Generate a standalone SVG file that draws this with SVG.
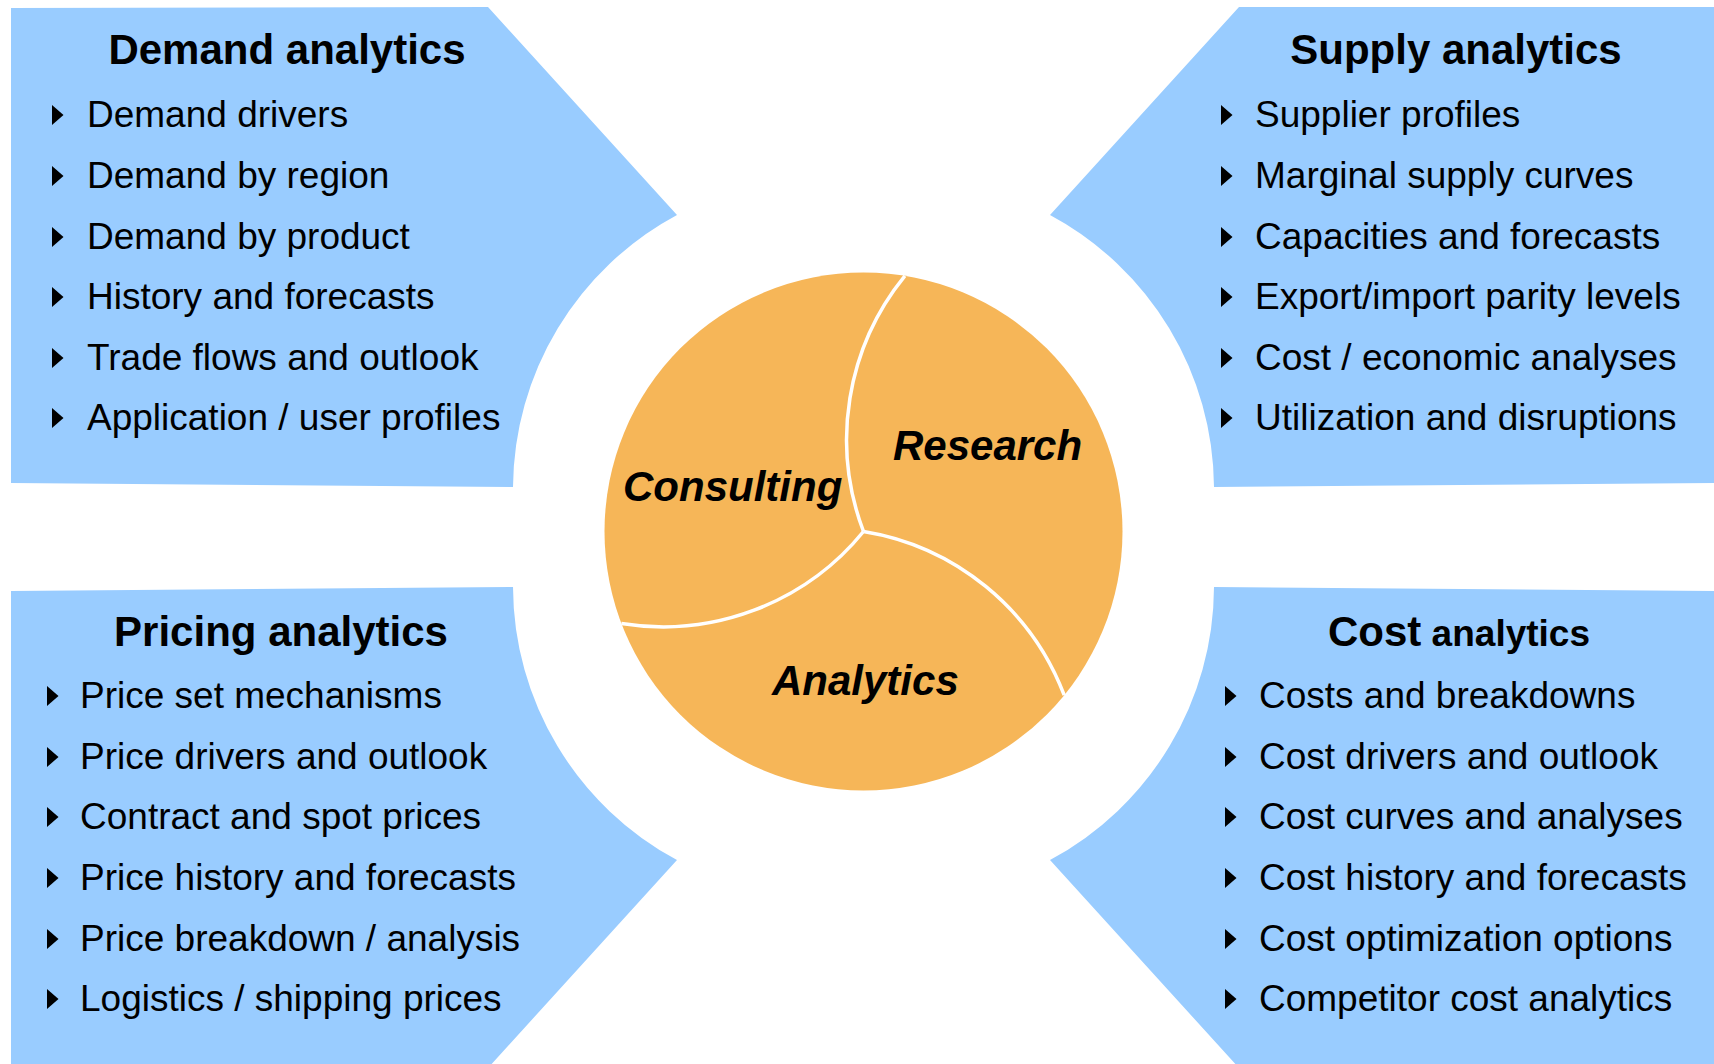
<svg xmlns="http://www.w3.org/2000/svg" xmlns:xlink="http://www.w3.org/1999/xlink" width="1714" height="1064" viewBox="0 0 1714 1064">
<style>
.panel{fill:#99CCFF;stroke:none}
.title{font-family:"Liberation Sans",Arial,sans-serif;font-weight:bold;font-size:42px;fill:#000}
.item{font-family:"Liberation Sans",Arial,sans-serif;font-size:37px;fill:#000}
.seg{font-family:"Liberation Sans",Arial,sans-serif;font-weight:bold;font-style:italic;font-size:42px;fill:#000}
.div{fill:none;stroke:#FFFFFF;stroke-width:3.5}
</style>
<defs>
<path id="bul" d="M0 0 L11.5 10 L0 20 Z" fill="#000"/>
</defs>
<rect width="1714" height="1064" fill="#FFFFFF"/>

<g id="demand">
<path class="panel" d="M11 8 L488 7 L677 215 A311 311 0 0 0 513 487 L11 483 Z"/>
<text class="title" x="287" y="64" text-anchor="middle">Demand analytics</text>
<use xlink:href="#bul" x="52" y="105"/><text class="item" x="87" y="127">Demand drivers</text>
<use xlink:href="#bul" x="52" y="166"/><text class="item" x="87" y="188">Demand by region</text>
<use xlink:href="#bul" x="52" y="227"/><text class="item" x="87" y="249">Demand by product</text>
<use xlink:href="#bul" x="52" y="287"/><text class="item" x="87" y="309">History and forecasts</text>
<use xlink:href="#bul" x="52" y="348"/><text class="item" x="87" y="370">Trade flows and outlook</text>
<use xlink:href="#bul" x="52" y="408"/><text class="item" x="87" y="430">Application / user profiles</text>
</g>

<g id="supply">
<path class="panel" d="M1239 7 L1714 7 L1714 483 L1214 487 A311 311 0 0 0 1050 215 Z"/>
<text class="title" x="1456" y="64" text-anchor="middle">Supply analytics</text>
<use xlink:href="#bul" x="1221" y="105"/><text class="item" x="1255" y="127">Supplier profiles</text>
<use xlink:href="#bul" x="1221" y="166"/><text class="item" x="1255" y="188">Marginal supply curves</text>
<use xlink:href="#bul" x="1221" y="227"/><text class="item" x="1255" y="249">Capacities and forecasts</text>
<use xlink:href="#bul" x="1221" y="287"/><text class="item" x="1255" y="309">Export/import parity levels</text>
<use xlink:href="#bul" x="1221" y="348"/><text class="item" x="1255" y="370">Cost / economic analyses</text>
<use xlink:href="#bul" x="1221" y="408"/><text class="item" x="1255" y="430">Utilization and disruptions</text>
</g>

<g id="pricing">
<path class="panel" d="M11 591 L513 587 A311 311 0 0 0 677 860 L488 1068 L11 1068 Z"/>
<text class="title" x="281" y="646" text-anchor="middle">Pricing analytics</text>
<use xlink:href="#bul" x="47" y="686"/><text class="item" x="80" y="708">Price set mechanisms</text>
<use xlink:href="#bul" x="47" y="747"/><text class="item" x="80" y="769">Price drivers and outlook</text>
<use xlink:href="#bul" x="47" y="807"/><text class="item" x="80" y="829">Contract and spot prices</text>
<use xlink:href="#bul" x="47" y="868"/><text class="item" x="80" y="890">Price history and forecasts</text>
<use xlink:href="#bul" x="47" y="929"/><text class="item" x="80" y="951">Price breakdown / analysis</text>
<use xlink:href="#bul" x="47" y="989"/><text class="item" x="80" y="1011">Logistics / shipping prices</text>
</g>

<g id="cost">
<path class="panel" d="M1214 587 L1714 591 L1714 1068 L1239 1068 L1050 860 A311 311 0 0 0 1214 587 Z"/>
<text class="title" x="1328" y="646">Cost<tspan font-size="37px"> analytics</tspan></text>
<use xlink:href="#bul" x="1225" y="686"/><text class="item" x="1259" y="708">Costs and breakdowns</text>
<use xlink:href="#bul" x="1225" y="747"/><text class="item" x="1259" y="769">Cost drivers and outlook</text>
<use xlink:href="#bul" x="1225" y="807"/><text class="item" x="1259" y="829">Cost curves and analyses</text>
<use xlink:href="#bul" x="1225" y="868"/><text class="item" x="1259" y="890">Cost history and forecasts</text>
<use xlink:href="#bul" x="1225" y="929"/><text class="item" x="1259" y="951">Cost optimization options</text>
<use xlink:href="#bul" x="1225" y="989"/><text class="item" x="1259" y="1011">Competitor cost analytics</text>
</g>

<g id="circle">
<circle cx="863.5" cy="531.5" r="259" fill="#F6B658"/>
</g>

<g id="dividers">
<path class="div" d="M863.5 531.5 A259 259 0 0 1 904.9 275.8"/>
<path class="div" d="M863.5 531.5 A259 259 0 0 1 621.4 623.5"/>
<path class="div" d="M863.5 531.5 A259 259 0 0 1 1064.2 695.2"/>
</g>

<g id="labels">
<text class="seg" x="623" y="501">Consulting</text>
<text class="seg" x="893" y="460">Research</text>
<text class="seg" x="772" y="695">Analytics</text>
</g>
</svg>
